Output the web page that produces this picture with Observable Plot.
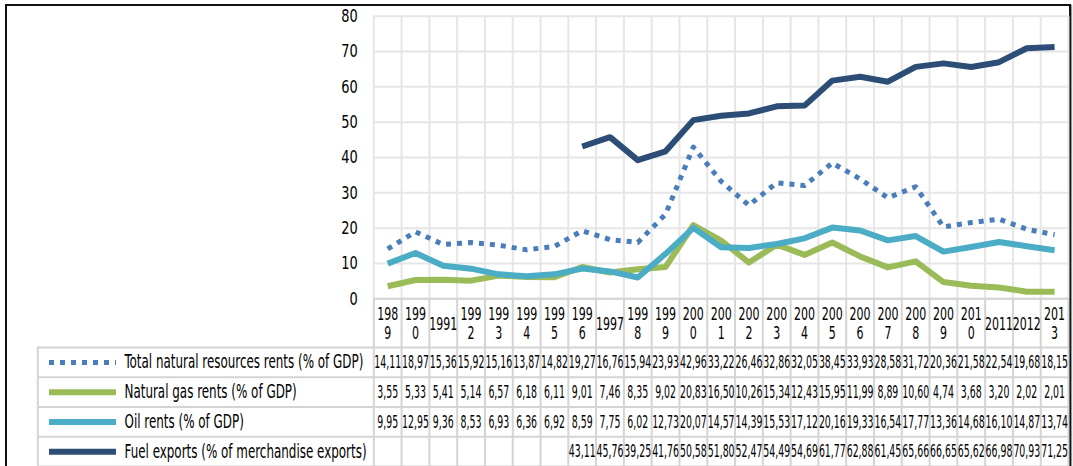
<!DOCTYPE html>
<html><head><meta charset="utf-8">
<script src="https://cdn.jsdelivr.net/npm/d3@7"></script>
<script src="https://cdn.jsdelivr.net/npm/@observablehq/plot@0.6"></script>
<style>
html,body{margin:0;padding:0;background:#fff;}
#wrap{position:relative;width:1073px;height:466px;overflow:hidden;background:#fff;}
#frame{position:absolute;left:5px;top:4px;width:1062px;height:480px;border:2px solid #111;box-shadow:1px 1px 1px #9a9a9a;}
#chart{position:absolute;left:0;top:0;}
#table{position:absolute;left:0;top:347px;}
svg text{font-family:"Liberation Sans Narrow","DejaVu Sans Condensed","Liberation Sans",sans-serif;}
</style></head><body>
<div id="wrap"><div id="frame"></div><div id="chart"></div><div id="table"></div></div>
<script>
const years = [1989,1990,1991,1992,1993,1994,1995,1996,1997,1998,1999,2000,2001,2002,2003,2004,2005,2006,2007,2008,2009,2010,2011,2012,2013];
const yearLabels = ["198\n9","199\n0","1991","199\n2","199\n3","199\n4","199\n5","199\n6","1997","199\n8","199\n9","200\n0","200\n1","200\n2","200\n3","200\n4","200\n5","200\n6","200\n7","200\n8","200\n9","201\n0","2011","2012","201\n3"];
const seriesNames = ["Total natural resources rents (% of GDP)","Natural gas rents (% of GDP)","Oil rents (% of GDP)","Fuel exports (% of merchandise exports)"];
const totalRents = [14.11,18.97,15.36,15.92,15.16,13.87,14.82,19.27,16.76,15.94,23.93,42.96,33.22,26.46,32.86,32.05,38.45,33.93,28.58,31.72,20.36,21.58,22.54,19.68,18.15];
const gasRents = [3.55,5.33,5.41,5.14,6.57,6.18,6.11,9.01,7.46,8.35,9.02,20.83,16.50,10.26,15.34,12.43,15.95,11.99,8.89,10.60,4.74,3.68,3.20,2.02,2.01];
const oilRents = [9.95,12.95,9.36,8.53,6.93,6.36,6.92,8.59,7.75,6.02,12.73,20.07,14.57,14.39,15.53,17.12,20.16,19.33,16.54,17.77,13.36,14.68,16.10,14.87,13.74];
const fuelExports = [null,null,null,null,null,null,null,43.11,45.76,39.25,41.76,50.58,51.80,52.47,54.49,54.69,61.77,62.88,61.45,65.66,66.65,65.62,66.98,70.93,71.25];
const yTicks = [0,10,20,30,40,50,60,70,80];
const seriesColors = ["#4a7ebb","#9bbb59","#4bacc6","#2c4d75"];

const seriesValues = [totalRents, gasRents, oilRents, fuelExports];
const W = 1073, ML = 373.3, MR = 5;
const xDomain = [years[0]-0.5, years[years.length-1]+0.5];
const bounds = d3.range(xDomain[0], xDomain[1]+0.01, 1);
const rows = (arr) => years.map((y,i)=>({year:y, value:arr[i]}));
const lineOpts = (s) => ({x:"year", y:"value", stroke:seriesColors[s], strokeWidth:6, strokeLinecap:"butt", strokeLinejoin:"round"});

const chart = Plot.plot({
  width: W, height: 347, marginLeft: ML, marginRight: MR, marginTop: 15.7, marginBottom: 48.7,
  x: {domain: xDomain, axis: null},
  y: {domain: [0,80], axis: null},
  style: {background:"transparent", overflow:"visible", color:"#000"},
  marks: [
    Plot.ruleY(yTicks, {stroke:"#e6e6e6", strokeWidth:2}),
    Plot.ruleX(bounds, {stroke:"#e6e6e6", strokeWidth:2}),
    Plot.ruleX(bounds, {stroke:"#d4d4d4", strokeWidth:2, insetTop:282.6, insetBottom:-48.7}),
    Plot.ruleY([0], {stroke:"#d4d4d4", strokeWidth:2}),
    Plot.axisY({ticks: yTicks, tickSize:0, tickPadding:16, label:null, fontSize:18, ariaDescription:"ytick"}),
    Plot.line(rows(totalRents), {...lineOpts(0), strokeWidth:5, strokeDasharray:"5,6"}),
    Plot.line(rows(gasRents), lineOpts(1)),
    Plot.line(rows(oilRents), lineOpts(2)),
    Plot.line(rows(fuelExports), lineOpts(3)),
    Plot.text(years, {x:d=>d, text:(d,i)=>yearLabels[i], frameAnchor:"bottom", lineAnchor:"middle", dy:24.5, lineHeight:1.15, fontSize:17, fill:"#000", ariaDescription:"header"})
  ]
});
document.getElementById("chart").appendChild(chart);

const tableData = [];
seriesValues.forEach((arr,s)=>arr.forEach((v,i)=>{ if(v!=null) tableData.push({year:years[i], row:s+0.5, label:v.toFixed(2).replace(".",",")}); }));
const legendLeft = 37.3, swatchL = 49, swatchR = 116, textL = 124;
const table = Plot.plot({
  width: W, height: 119, marginLeft: ML, marginRight: MR, marginTop: 0, marginBottom: 0,
  x: {domain: xDomain, axis: null},
  y: {domain: [seriesNames.length, 0], axis: null},
  style: {background:"transparent", overflow:"visible", color:"#000"},
  marks: [
    Plot.ruleX(bounds, {stroke:"#d4d4d4", strokeWidth:2}),
    Plot.ruleX([xDomain[0]], {dx:-(ML-legendLeft), stroke:"#d4d4d4", strokeWidth:2}),
    Plot.ruleY(d3.range(seriesNames.length+1), {stroke:"#d4d4d4", strokeWidth:2, insetLeft:-(ML-legendLeft)}),
    ...seriesNames.map((n,s)=>Plot.ruleY([s+0.5], {stroke:seriesColors[s], strokeWidth:s===0?5:6, strokeDasharray:s===0?"5,6":null, insetLeft:-(ML-swatchL), insetRight:(W-MR-swatchR)})),
    Plot.text(seriesNames, {y:(d,i)=>i+0.5, text:d=>d, frameAnchor:"left", dx:-(ML-textL), textAnchor:"start", fontSize:19, fill:"#000", ariaDescription:"legend"}),
    Plot.text(tableData, {x:"year", y:"row", text:"label", fontSize:18, fill:"#000", ariaDescription:"values"})
  ]
});
document.getElementById("table").appendChild(table);

function condense(root, sel, s){
  root.querySelectorAll(sel).forEach(t=>{
    const tr = t.getAttribute("transform");
    if (tr) t.setAttribute("transform", tr+` scale(${s},1)`);
    else { const x = +(t.getAttribute("x")||0); t.setAttribute("transform", `translate(${x},0) scale(${s},1) translate(${-x},0)`); }
  });
}
function fitScale(root, sel, target){
  const ts = [...root.querySelectorAll(sel)];
  const w = ts.length ? ts[0].getComputedTextLength() : target;
  return w > 0 ? target / w : 1;
}
const sLegend = fitScale(table, 'g[aria-description="legend"] text', 239);
condense(chart, 'g[aria-description="ytick"] text', 0.8);
condense(chart, 'g[aria-description="header"] text', 0.72);
condense(table, 'g[aria-description="legend"] text', sLegend);
condense(table, 'g[aria-description="values"] text', 0.58);
</script>
</body></html>
